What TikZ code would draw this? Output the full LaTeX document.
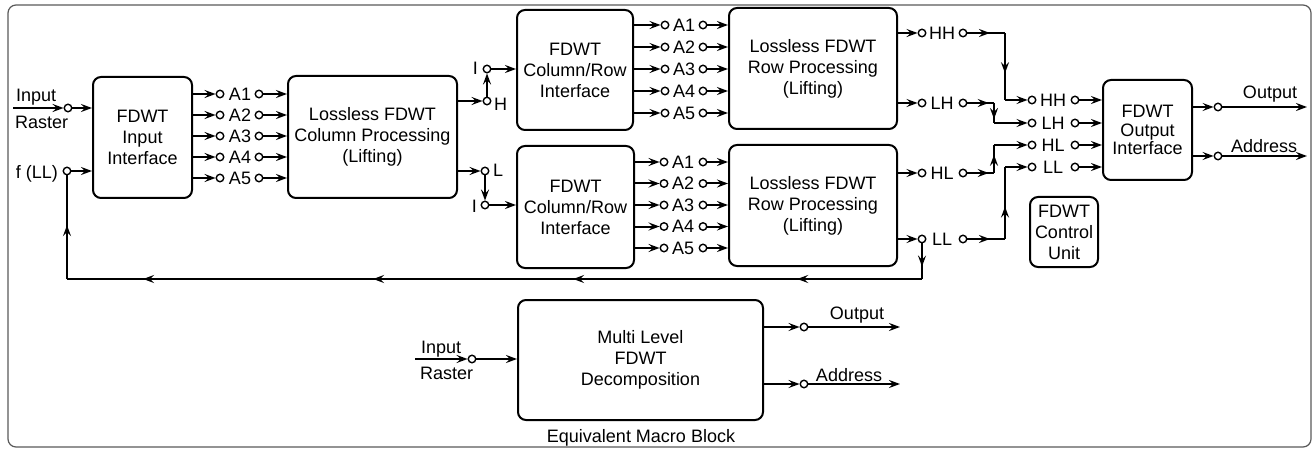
\documentclass[tikz,border=0pt]{standalone}
\usepackage{fontspec}
\setmainfont{Liberation Sans}
\usetikzlibrary{arrows.meta,decorations.markings}

\begin{document}
\begin{tikzpicture}[x=1pt,y=-1pt,
  >={Stealth[length=11pt,width=8pt,inset=4pt]},
  every node/.style={font=\fontsize{18}{21}\selectfont},
  blk/.style={draw,line width=2pt,rounded corners=8pt,align=center,inner sep=0pt},
  port/.style={circle,draw,line width=1.4pt,fill=white,inner sep=0pt,minimum size=7.5pt},
  lbl/.style={inner sep=0pt},
  wire/.style={line width=2pt},
  marr/.style={postaction={decorate},decoration={markings,mark=at position #1 with {\arrow{>}}}},
  marr/.default=0.5
]
\useasboundingbox (0,0) rectangle (1314,449);
\draw[black!65,line width=1.2pt,rounded corners=8pt] (8,5) rectangle (1311,447);

% ---------- processing blocks ----------
\node[blk,minimum width=99pt,minimum height=121pt] (inif) at (142.5,137.5) {FDWT\\Input\\Interface};
\node[blk,minimum width=169pt,minimum height=122pt] (colp) at (372.5,137) {Lossless FDWT\\Column Processing\\(Lifting)};
\node[blk,minimum width=116pt,minimum height=120pt] (crtop) at (575,70) {FDWT\\Column/Row\\Interface};
\node[blk,minimum width=117pt,minimum height=122pt] (crbot) at (575.5,207) {FDWT\\Column/Row\\Interface};
\node[blk,minimum width=168pt,minimum height=121pt] (rowtop) at (813,68.5) {Lossless FDWT\\Row Processing\\(Lifting)};
\node[blk,minimum width=168pt,minimum height=121pt] (rowbot) at (813,205.5) {Lossless FDWT\\Row Processing\\(Lifting)};
\node[blk,minimum width=89pt,minimum height=100pt,font=\fontsize{18}{18.5}\selectfont] (outif) at (1147.5,130) {FDWT\\Output\\Interface};
\node[blk,minimum width=68pt,minimum height=70pt] (ctrl) at (1064,232) {FDWT\\Control\\Unit};
\node[blk,minimum width=245pt,minimum height=120pt] (macro) at (640.5,360) {Multi Level\\FDWT\\Decomposition};
\node[lbl,anchor=base] (mtitle) at (641,442) {Equivalent Macro Block};

% ---------- raster input and feedback input ----------
\coordinate (inS) at (13,108);
\node[port] (inC) at (68,108) {};
\node[lbl,anchor=base west] (inT1) at (16,102) {Input};
\node[lbl,anchor=base west] (inT2) at (15,129) {Raster};
\draw[wire,->] (inS) -- (inC);
\draw[wire,->] (inC) -- (inC -| inif.west);

\node[port] (fC) at (67,171) {};
\node[lbl,anchor=base east] (fT) at (58,179) {f (LL)};
\draw[wire,->] (fC) -- (fC -| inif.west);

% ---------- first stage taps ----------
\foreach \i/\y in {1/94,2/115,3/136,4/157,5/178} {
  \node[port] (aL\i) at (220,\y) {};
  \node[lbl] (aT\i) at (240,\y) {A\i};
  \node[port] (aR\i) at (259,\y) {};
  \draw[wire,->] (aL\i -| inif.east) -- (aL\i);
  \draw[wire,->] (aR\i) -- (aR\i -| colp.west);
}

% ---------- column outputs H / L ----------
\node[port] (hC) at (487,101) {};
\node[port] (iC1) at (487,69) {};
\node[lbl,anchor=base west] (hT) at (494,111) {H};
\node[lbl,anchor=base east] (iT1) at (478,75) {I};
\draw[wire,->] (hC -| colp.east) -- (hC);
\draw[wire,->] (hC) -- (iC1);
\draw[wire,->] (iC1) -- (iC1 -| crtop.west);

\node[port] (lC) at (485,171) {};
\node[port] (iC2) at (485,205) {};
\node[lbl,anchor=base west] (lT) at (493,177) {L};
\node[lbl,anchor=base east] (iT2) at (477,212) {I};
\draw[wire,->] (lC -| colp.east) -- (lC);
\draw[wire,->] (lC) -- (iC2);
\draw[wire,->] (iC2) -- (iC2 -| crbot.west);

% ---------- second stage taps ----------
\foreach \i/\y in {1/25,2/47,3/69,4/91,5/113} {
  \node[port] (bL\i) at (665,\y) {};
  \node[lbl] (bT\i) at (684,\y) {A\i};
  \node[port] (bR\i) at (703,\y) {};
  \draw[wire,->] (bL\i -| crtop.east) -- (bL\i);
  \draw[wire,->] (bR\i) -- (bR\i -| rowtop.west);
}
\foreach \i/\y in {1/162,2/183.5,3/205,4/226.5,5/248} {
  \node[port] (cL\i) at (664,\y) {};
  \node[lbl] (cT\i) at (683,\y) {A\i};
  \node[port] (cR\i) at (703,\y) {};
  \draw[wire,->] (cL\i -| crbot.east) -- (cL\i);
  \draw[wire,->] (cR\i) -- (cR\i -| rowbot.west);
}

% ---------- sub-band outputs ----------
\foreach \n/\y/\t/\b in {hh/33/HH/rowtop,lh/103/LH/rowtop,hl/173/HL/rowbot,ll/239/LL/rowbot} {
  \node[port] (\n L) at (922,\y) {};
  \node[lbl] (\n T) at (942,\y) {\t};
  \node[port] (\n R) at (963,\y) {};
  \draw[wire,->] (\n L -| \b.east) -- (\n L);
}

% ---------- output interface inputs ----------
\foreach \n/\y/\t in {hh/100/HH,lh/123/LH,hl/145/HL,ll/167/LL} {
  \node[port] (\n P) at (1032,\y) {};
  \node[lbl] (\n Q) at (1053,\y) {\t};
  \node[port] (\n S) at (1075,\y) {};
  \draw[wire,->] (\n S) -- (\n S -| outif.west);
}

% routing between sub-band outputs and output interface
\coordinate (hhA) at (1005,33);  \coordinate (hhB) at (1005,100);
\draw[wire,marr=0.6] (hhR) -- (hhA);
\draw[wire,marr=0.6] (hhA) -- (hhB);
\draw[wire,->] (hhB) -- (hhP);

\coordinate (lhA) at (994,103);  \coordinate (lhB) at (994,123);
\draw[wire,marr=0.8] (lhR) -- (lhA);
\draw[wire,marr=0.8] (lhA) -- (lhB);
\draw[wire,->] (lhB) -- (lhP);

\coordinate (hlA) at (994,173);  \coordinate (hlB) at (994,145);
\draw[wire,marr=0.8] (hlR) -- (hlA);
\draw[wire,marr=0.65] (hlA) -- (hlB);
\draw[wire,->] (hlB) -- (hlP);

\coordinate (llA) at (1005,239);  \coordinate (llB) at (1005,167);
\draw[wire,marr=0.6] (llR) -- (llA);
\draw[wire,marr=0.45] (llA) -- (llB);
\draw[wire,->] (llB) -- (llP);

% ---------- LL feedback loop ----------
\coordinate (fbA) at (922,279);
\coordinate (fbB) at (67,279);
\draw[wire,marr=0.65] (llL) -- (fbA);
\draw[wire,postaction={decorate},decoration={markings,
    mark=at position 0.146 with {\arrow{>}},
    mark=at position 0.408 with {\arrow{>}},
    mark=at position 0.642 with {\arrow{>}},
    mark=at position 0.911 with {\arrow{>}}}] (fbA) -- (fbB);
\draw[wire,marr=0.52] (fbB) -- (fC);

% ---------- final outputs ----------
\node[port] (oC) at (1218,107) {};
\coordinate (oE) at (1307,107);
\node[lbl,anchor=base] (oT) at (1270,99) {Output};
\draw[wire,->] (oC -| outif.east) -- (oC);
\draw[wire,->] (oC) -- (oE);

\node[port] (dC) at (1218,156) {};
\coordinate (dE) at (1307,156);
\node[lbl,anchor=base] (dT) at (1264,153) {Address};
\draw[wire,->] (dC -| outif.east) -- (dC);
\draw[wire,->] (dC) -- (dE);

% ---------- equivalent macro block ----------
\coordinate (mS) at (415,359);
\node[port] (mC) at (472,359) {};
\node[lbl,anchor=base west] (mT1) at (421,353) {Input};
\node[lbl,anchor=base west] (mT2) at (420,379) {Raster};
\draw[wire,->] (mS) -- (mC);
\draw[wire,->] (mC) -- (mC -| macro.west);

\node[port] (moC) at (804,327) {};
\coordinate (moE) at (900,327);
\node[lbl,anchor=base] (moT) at (857,319) {Output};
\draw[wire,->] (moC -| macro.east) -- (moC);
\draw[wire,->] (moC) -- (moE);

\node[port] (maC) at (804,384) {};
\coordinate (maE) at (900,384);
\node[lbl,anchor=base] (maT) at (849,381) {Address};
\draw[wire,->] (maC -| macro.east) -- (maC);
\draw[wire,->] (maC) -- (maE);
\end{tikzpicture}
\end{document}
